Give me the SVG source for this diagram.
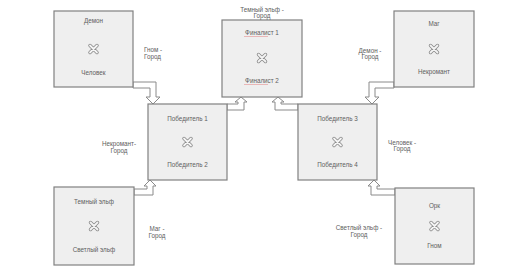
<svg xmlns="http://www.w3.org/2000/svg" width="512" height="271" viewBox="0 0 512 271">
<defs>
<style>
.box{fill:#efefef;stroke:#808080;stroke-width:1.2}
.t{font-family:"Liberation Sans",Arial,sans-serif;font-size:6.3px;fill:#606060;text-anchor:middle}
.lbl{font-family:"Liberation Sans",Arial,sans-serif;font-size:6.3px;fill:#606060;text-anchor:middle}
.lbll{font-family:"Liberation Sans",Arial,sans-serif;font-size:6.3px;fill:#606060;text-anchor:start}
.conn{fill:#ffffff;stroke:#8a8a8a;stroke-width:1;stroke-linejoin:miter}
.xo{stroke:#888;stroke-width:3.4;stroke-linecap:round;fill:none}
.xi{stroke:#f4f4f4;stroke-width:1.8;stroke-linecap:round;fill:none}
.sp{stroke:#e05050;stroke-width:0.7;stroke-dasharray:1 1;fill:none}
</style>
<g id="xicon">
<path class="xo" d="M-3.5,-3.5 L3.5,3.5 M3.5,-3.5 L-3.5,3.5"/>
<path class="xi" d="M-3.5,-3.5 L3.5,3.5 M3.5,-3.5 L-3.5,3.5"/>
</g>
</defs>
<rect width="512" height="271" fill="#ffffff"/>

<g id="connectors">
<polygon class="conn" points="133,82 156,82 156,97 160,97 153,104 146,97 150,97 150,88 133,88"/>
<polygon class="conn" points="394,82 369,82 369,97 365,97 372,104 379,97 375,97 375,88 394,88"/>
<polygon class="conn" points="227,104 238,104 238,102 235,102 241,97 247,102 244,102 244,110 227,110"/>
<polygon class="conn" points="298,104 281,104 281,102 284,102 278,97 272,102 275,102 275,110 298,110"/>
<polygon class="conn" points="134,189 147,189 147,186 144,186 150,180 156,186 153,186 153,195 134,195"/>
<polygon class="conn" points="395,189 377,189 377,186 380,186 374,180 368,186 371,186 371,195 395,195"/>
</g>

<g id="n1">
<rect class="box" x="54" y="11" width="79" height="76"/>
<text class="t" x="93.5" y="23">Демон</text>
<use href="#xicon" x="93.5" y="49"/>
<text class="t" x="93.5" y="75">Человек</text>
</g>

<g id="n2">
<rect class="box" x="222" y="20" width="80" height="77"/>
<text class="t" x="262" y="35">Финалист 1</text>
<path class="sp" d="M244.5,36.5 H268.5"/>
<use href="#xicon" x="262" y="58"/>
<text class="t" x="262" y="83">Финалист 2</text>
<path class="sp" d="M244.5,84.5 H268.5"/>
</g>

<g id="n3">
<rect class="box" x="394" y="11" width="80" height="76"/>
<text class="t" x="434" y="26">Маг</text>
<use href="#xicon" x="434" y="49"/>
<text class="t" x="434" y="74">Некромант</text>
</g>

<g id="n4">
<rect class="box" x="148" y="104" width="79" height="76"/>
<text class="t" x="187.5" y="121">Победитель 1</text>
<use href="#xicon" x="187.5" y="142"/>
<text class="t" x="187.5" y="167">Победитель 2</text>
</g>

<g id="n5">
<rect class="box" x="298" y="104" width="79" height="76"/>
<text class="t" x="337.5" y="121">Победитель 3</text>
<use href="#xicon" x="337.5" y="142"/>
<text class="t" x="337.5" y="167">Победитель 4</text>
</g>

<g id="n6">
<rect class="box" x="54" y="187" width="80" height="78"/>
<text class="t" x="94" y="204">Темный эльф</text>
<use href="#xicon" x="94" y="226"/>
<text class="t" x="94" y="252">Светлый эльф</text>
</g>

<g id="n7">
<rect class="box" x="395" y="188" width="79" height="76"/>
<text class="t" x="434.5" y="208">Орк</text>
<use href="#xicon" x="434.5" y="226"/>
<text class="t" x="434.5" y="248">Гном</text>
</g>

<g id="labels">
<text class="lbl" x="262" y="12">Темный эльф -</text>
<text class="lbl" x="262" y="18">Город</text>
<text class="lbll" x="144" y="52">Гном -</text>
<text class="lbll" x="144" y="59">Город</text>
<text class="lbl" x="370" y="53">Демон -</text>
<text class="lbl" x="370" y="59">Город</text>
<text class="lbl" x="119" y="146">Некромант-</text>
<text class="lbl" x="119" y="153">Город</text>
<text class="lbl" x="402" y="145">Человек -</text>
<text class="lbl" x="402" y="151">Город</text>
<text class="lbl" x="157" y="231">Маг -</text>
<text class="lbl" x="157" y="238">Город</text>
<text class="lbl" x="359" y="230">Светлый эльф -</text>
<text class="lbl" x="359" y="237">Город</text>
</g>
</svg>
